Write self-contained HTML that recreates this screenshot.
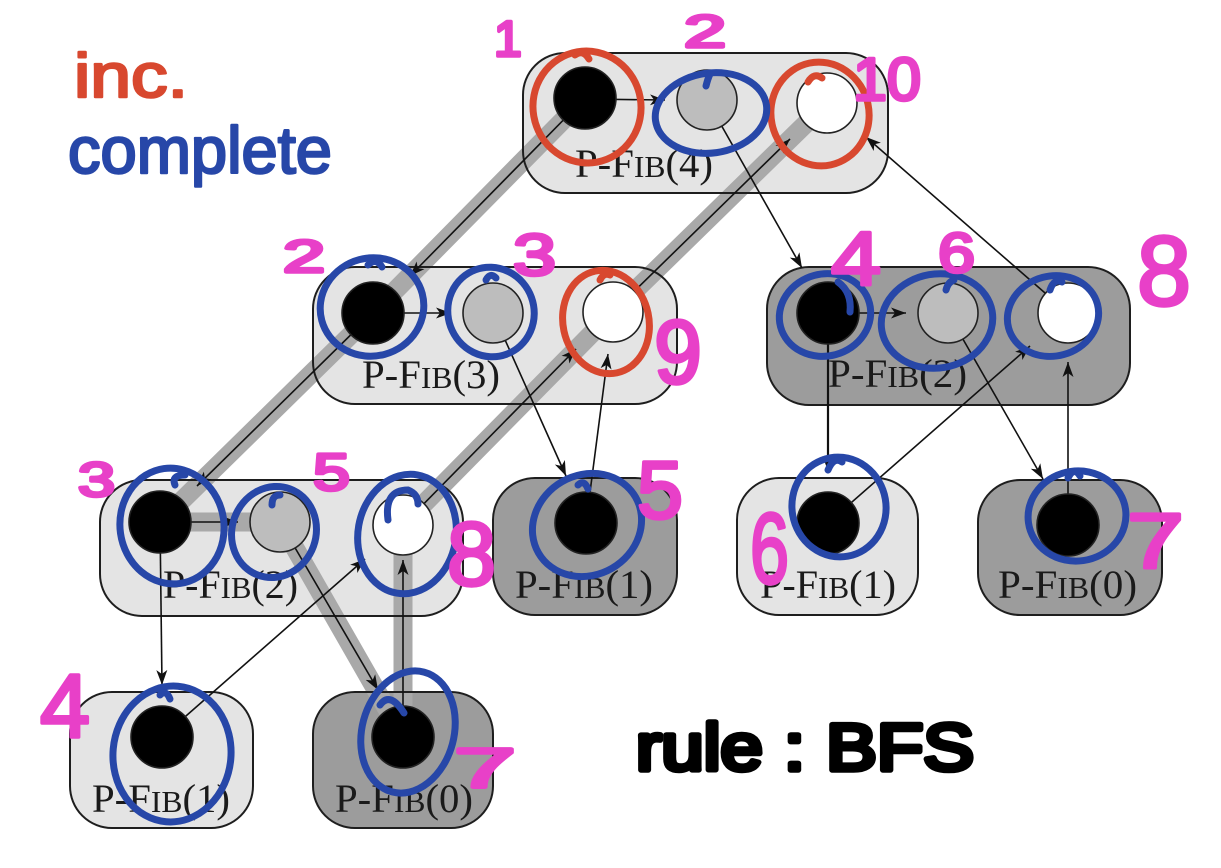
<!DOCTYPE html>
<html>
<head>
<meta charset="utf-8">
<style>
html,body{margin:0;padding:0;background:#fff;width:1221px;height:868px;overflow:hidden}
svg{display:block}
.lbl{font-family:"Liberation Serif",serif;font-size:40px;fill:#1a1a1a}
.sc{font-size:31px}
.pk{font-family:"Liberation Sans",sans-serif;font-weight:normal;fill:#e840c8;stroke:#e840c8;stroke-width:3.5;stroke-linejoin:round;stroke-linecap:round}
.hw{font-family:"Liberation Sans",sans-serif;font-weight:normal;stroke-linejoin:round;stroke-linecap:round}
</style>
</head>
<body>
<svg width="1221" height="868" viewBox="0 0 1221 868" xmlns="http://www.w3.org/2000/svg">
<defs>
<marker id="ah" markerWidth="16" markerHeight="12" refX="15" refY="6" orient="auto" markerUnits="userSpaceOnUse">
<path d="M0,0.5 L15,6 L0,11.5 L4,6 z" fill="#111"/>
</marker>
</defs>

<!-- box fills -->
<g stroke="none">
<rect x="523" y="53" width="365" height="140" rx="42" fill="#e4e4e4"/>
<rect x="313" y="267" width="364" height="137" rx="42" fill="#e4e4e4"/>
<rect x="767" y="267" width="363" height="138" rx="42" fill="#9c9c9c"/>
<rect x="100" y="480" width="363" height="136" rx="42" fill="#e4e4e4"/>
<rect x="493" y="478" width="184" height="137" rx="42" fill="#9c9c9c"/>
<rect x="737" y="478" width="181" height="137" rx="42" fill="#e4e4e4"/>
<rect x="978" y="480" width="184" height="135" rx="42" fill="#9c9c9c"/>
<rect x="70" y="692" width="183" height="136" rx="42" fill="#e4e4e4"/>
<rect x="313" y="692" width="180" height="136" rx="42" fill="#9c9c9c"/>
</g>

<!-- critical path band -->
<polyline points="585,98 373,313 160,522 280,522 403,737 403,525 613,312 827,103" fill="none" stroke="#a9a9a9" stroke-width="19" stroke-linejoin="round" stroke-linecap="round"/>

<!-- box outlines -->
<g fill="none" stroke="#1e1e1e" stroke-width="2">
<rect x="523" y="53" width="365" height="140" rx="42"/>
<rect x="313" y="267" width="364" height="137" rx="42"/>
<rect x="767" y="267" width="363" height="138" rx="42"/>
<rect x="100" y="480" width="363" height="136" rx="42"/>
<rect x="493" y="478" width="184" height="137" rx="42"/>
<rect x="737" y="478" width="181" height="137" rx="42"/>
<rect x="978" y="480" width="184" height="135" rx="42"/>
<rect x="70" y="692" width="183" height="136" rx="42"/>
<rect x="313" y="692" width="180" height="136" rx="42"/>
</g>

<!-- labels -->
<text class="lbl" x="575" y="177" textLength="138" lengthAdjust="spacingAndGlyphs">P-F<tspan class="sc">IB</tspan>(4)</text>
<text class="lbl" x="362" y="388" textLength="138" lengthAdjust="spacingAndGlyphs">P-F<tspan class="sc">IB</tspan>(3)</text>
<text class="lbl" x="828" y="387" textLength="139" lengthAdjust="spacingAndGlyphs">P-F<tspan class="sc">IB</tspan>(2)</text>
<text class="lbl" x="163" y="598" textLength="135" lengthAdjust="spacingAndGlyphs">P-F<tspan class="sc">IB</tspan>(2)</text>
<text class="lbl" x="515" y="598" textLength="138" lengthAdjust="spacingAndGlyphs">P-F<tspan class="sc">IB</tspan>(1)</text>
<text class="lbl" x="760" y="598" textLength="136" lengthAdjust="spacingAndGlyphs">P-F<tspan class="sc">IB</tspan>(1)</text>
<text class="lbl" x="998" y="598" textLength="139" lengthAdjust="spacingAndGlyphs">P-F<tspan class="sc">IB</tspan>(0)</text>
<text class="lbl" x="92" y="812" textLength="138" lengthAdjust="spacingAndGlyphs">P-F<tspan class="sc">IB</tspan>(1)</text>
<text class="lbl" x="335" y="812" textLength="138" lengthAdjust="spacingAndGlyphs">P-F<tspan class="sc">IB</tspan>(0)</text>

<!-- edges -->
<g stroke="#111" stroke-width="1.6" fill="none" marker-end="url(#ah)">
<line x1="585" y1="99" x2="665" y2="100"/>
<line x1="707" y1="100" x2="802" y2="268"/>
<line x1="1068" y1="313" x2="866" y2="137"/>
<line x1="585" y1="98" x2="410" y2="276"/>
<line x1="373" y1="313" x2="197" y2="486"/>
<line x1="403" y1="525" x2="576" y2="349"/>
<line x1="613" y1="312" x2="790" y2="139"/>
<line x1="373" y1="313" x2="451" y2="313"/>
<line x1="493" y1="313" x2="566" y2="476"/>
<line x1="586" y1="523" x2="608" y2="354"/>
<line x1="828" y1="313" x2="906" y2="313"/>
<line x1="828" y1="313" x2="828" y2="471" stroke-width="2.2"/>
<line x1="948" y1="313" x2="1043" y2="479"/>
<line x1="828" y1="523" x2="1030" y2="346"/>
<line x1="1068" y1="525" x2="1068" y2="362"/>
<line x1="160" y1="522" x2="238" y2="522"/>
<line x1="160" y1="522" x2="162" y2="685"/>
<line x1="162" y1="737" x2="365" y2="559"/>
<line x1="280" y1="522" x2="378" y2="690"/>
<line x1="403" y1="737" x2="403" y2="560"/>
</g>

<!-- nodes -->
<g stroke="#222" stroke-width="1.6">
<circle cx="585" cy="98" r="31" fill="#000"/>
<circle cx="707" cy="100" r="30" fill="#bdbdbd"/>
<circle cx="827" cy="103" r="30" fill="#fff"/>
<circle cx="373" cy="313" r="31" fill="#000"/>
<circle cx="493" cy="313" r="30" fill="#bdbdbd"/>
<circle cx="613" cy="312" r="30" fill="#fff"/>
<circle cx="828" cy="313" r="31" fill="#000"/>
<circle cx="948" cy="313" r="30" fill="#bdbdbd"/>
<circle cx="1068" cy="313" r="30" fill="#fff"/>
<circle cx="160" cy="522" r="31" fill="#000"/>
<circle cx="280" cy="522" r="30" fill="#bdbdbd"/>
<circle cx="403" cy="525" r="30" fill="#fff"/>
<circle cx="586" cy="523" r="31" fill="#000"/>
<circle cx="828" cy="523" r="31" fill="#000"/>
<circle cx="1068" cy="525" r="31" fill="#000"/>
<circle cx="162" cy="737" r="31" fill="#000"/>
<circle cx="403" cy="737" r="31" fill="#000"/>
</g>

<!-- annotation circles -->
<g fill="none" stroke-width="7" stroke-linecap="round">
<g stroke="#d8482f">
<ellipse cx="587" cy="107" rx="54" ry="56" transform="rotate(-10 587 107)"/>
<path d="M575,55 q8,-6 14,4"/>
<ellipse cx="820" cy="114" rx="49" ry="52" transform="rotate(-12 820 114)"/>
<path d="M808,82 q6,-10 14,-4"/>
<ellipse cx="606" cy="322" rx="43" ry="52" transform="rotate(-12 606 322)"/>
<path d="M600,280 q4,-8 10,-5"/>
</g>
<g stroke="#2747a8">
<ellipse cx="711" cy="113" rx="56" ry="40" transform="rotate(-8 711 113)"/>
<path d="M706,86 q2,-8 4,-12"/>
<ellipse cx="372" cy="307" rx="52" ry="49" transform="rotate(-15 372 307)"/>
<path d="M368,265 q8,-8 14,2"/>
<ellipse cx="491" cy="312" rx="43" ry="45" transform="rotate(-20 491 312)"/>
<path d="M486,280 q4,-8 10,-2"/>
<ellipse cx="825" cy="315" rx="46" ry="41" transform="rotate(-15 825 315)"/>
<path d="M850,312 q2,-20 -12,-30"/>
<ellipse cx="937" cy="321" rx="56" ry="47" transform="rotate(-10 937 321)"/>
<path d="M946,290 q2,-8 8,-10"/>
<ellipse cx="1053" cy="316" rx="46" ry="40" transform="rotate(-15 1053 316)"/>
<path d="M1050,290 q4,-12 12,-8"/>
<ellipse cx="172" cy="526" rx="52" ry="58" transform="rotate(-8 172 526)"/>
<path d="M175,485 q-4,-10 10,-10"/>
<ellipse cx="274" cy="532" rx="42" ry="46" transform="rotate(20 274 532)"/>
<path d="M272,505 q0,-10 8,-10"/>
<ellipse cx="407" cy="534" rx="49" ry="60" transform="rotate(10 407 534)"/>
<path d="M388,520 q-4,-30 20,-30 q10,4 10,14"/>
<ellipse cx="587" cy="525" rx="56" ry="50" transform="rotate(-30 587 525)"/>
<path d="M578,485 q6,-6 10,4"/>
<ellipse cx="839" cy="507" rx="47" ry="50" transform="rotate(-10 839 507)"/>
<path d="M828,470 q6,-14 14,-8"/>
<ellipse cx="1077" cy="516" rx="49" ry="45" transform="rotate(-8 1077 516)"/>
<path d="M1068,478 q6,-12 12,-2"/>
<ellipse cx="172" cy="754" rx="59" ry="68" transform="rotate(5 172 754)"/>
<path d="M160,695 q6,-6 10,4"/>
<ellipse cx="408" cy="732" rx="46" ry="62" transform="rotate(15 408 732)"/>
<path d="M380,705 q10,-14 24,8"/>
</g>
</g>

<!-- handwritten text -->
<text class="hw" x="74" y="97" font-size="62" textLength="114" lengthAdjust="spacingAndGlyphs" fill="#d8482f" stroke="#d8482f" stroke-width="2.5">inc.</text>
<text class="hw" x="68" y="173" font-size="66" textLength="264" lengthAdjust="spacingAndGlyphs" fill="#2747a8" stroke="#2747a8" stroke-width="2.5">complete</text>
<text class="hw" x="636" y="770" font-size="66" textLength="338" lengthAdjust="spacingAndGlyphs" fill="#000" stroke="#000" stroke-width="5.5">rule : BFS</text>

<!-- pink numbers -->
<text class="pk" x="494" y="56" font-size="50">1</text>
<text class="pk" x="684" y="47" font-size="45" textLength="42" lengthAdjust="spacingAndGlyphs">2</text>
<text class="pk" x="853" y="100" font-size="60" textLength="68" lengthAdjust="spacingAndGlyphs">10</text>
<text class="pk" x="283" y="272" font-size="45" textLength="42" lengthAdjust="spacingAndGlyphs">2</text>
<text class="pk" x="513" y="275" font-size="58" textLength="43" lengthAdjust="spacingAndGlyphs">3</text>
<text class="pk" x="654" y="383" font-size="90" textLength="48" lengthAdjust="spacingAndGlyphs">9</text>
<text class="pk" x="831" y="285" font-size="76" textLength="50" lengthAdjust="spacingAndGlyphs">4</text>
<text class="pk" x="938" y="272" font-size="56" textLength="37" lengthAdjust="spacingAndGlyphs">6</text>
<text class="pk" x="1137" y="305" font-size="98" textLength="54" lengthAdjust="spacingAndGlyphs">8</text>
<text class="pk" x="78" y="496" font-size="48" textLength="37" lengthAdjust="spacingAndGlyphs">3</text>
<text class="pk" x="313" y="490" font-size="52" textLength="37" lengthAdjust="spacingAndGlyphs">5</text>
<text class="pk" x="447" y="585" font-size="90" textLength="49" lengthAdjust="spacingAndGlyphs">8</text>
<text class="pk" x="637" y="518" font-size="82" textLength="46" lengthAdjust="spacingAndGlyphs">5</text>
<text class="pk" x="750" y="583" font-size="100" textLength="39" lengthAdjust="spacingAndGlyphs">6</text>
<text class="pk" x="1127" y="568" font-size="78" textLength="57" lengthAdjust="spacingAndGlyphs">7</text>
<text class="pk" x="40" y="737" font-size="90" textLength="50" lengthAdjust="spacingAndGlyphs">4</text>
<text class="pk" x="454" y="787" font-size="56" textLength="62" lengthAdjust="spacingAndGlyphs">7</text>
</svg>
</body>
</html>
